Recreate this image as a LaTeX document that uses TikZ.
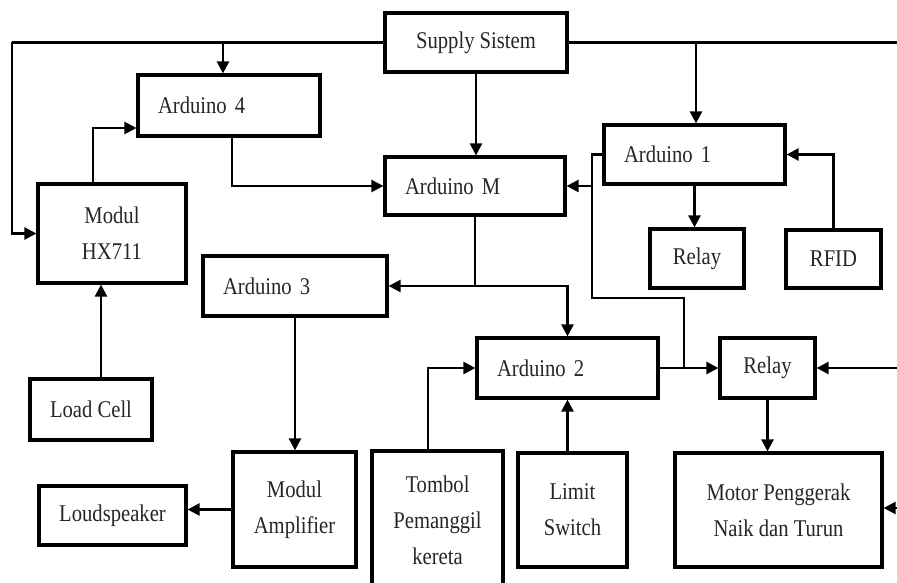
\documentclass[tikz,border=0pt]{standalone}
\usepackage{fontspec}
\setmainfont{Liberation Serif}[FakeStretch=0.86]
\usetikzlibrary{arrows.meta,calc}
\begin{document}
\begin{tikzpicture}[x=1pt,y=-1pt,
  box/.style={draw, line width=3.2pt, inner sep=0pt, font=\fontsize{24}{36}\selectfont, text=black!85},
  lbox/.style={box, align=left, inner xsep=20pt},
  cbox/.style={box, align=center},
  conn/.style={line width=2.4pt},
  arr/.style={conn, -{Triangle[length=12pt,width=12pt]}}]
\useasboundingbox (0,0) rectangle (897,583);
% nodes
\node[cbox, minimum width=182pt, minimum height=59pt] (supply) at (476,42.5) {Supply Sistem};
\node[lbox, text width=142pt, minimum height=61pt] (a4) at (229,105.5) {Arduino 4};
\node[cbox, minimum width=148pt, minimum height=99pt] (hx) at (112,233.5) {Modul\\HX711};
\node[lbox, text width=140pt, minimum height=58pt] (am) at (475,186) {Arduino M};
\node[lbox, text width=141pt, minimum height=59pt] (a1) at (694.5,154.5) {Arduino 1};
\node[cbox, minimum width=94pt, minimum height=59pt] (relay1) at (697,258.5) {Relay};
\node[cbox, minimum width=95pt, minimum height=58pt] (rfid) at (833.5,259) {RFID};
\node[lbox, text width=144pt, minimum height=60pt] (a3) at (295,286) {Arduino 3};
\node[cbox, minimum width=122pt, minimum height=61pt] (load) at (91,409.5) {Load Cell};
\node[lbox, text width=141pt, minimum height=60pt] (a2) at (567.5,368) {Arduino 2};
\node[cbox, minimum width=95pt, minimum height=60pt] (relay2) at (767.5,368) {Relay};
\node[cbox, minimum width=123pt, minimum height=115pt] (amp) at (294.5,509.5) {Modul\\Amplifier};
\node[cbox, minimum width=147pt, minimum height=59pt] (loud) at (112.5,515.5) {Loudspeaker};
\node[cbox, minimum width=131pt, minimum height=139pt] (tombol) at (437.5,520.5) {Tombol\\Pemanggil\\kereta};
\node[cbox, minimum width=109pt, minimum height=114pt] (limit) at (572.5,510) {Limit\\Switch};
\node[cbox, minimum width=207pt, minimum height=114pt] (motor) at (778.5,510) {Motor Penggerak\\Naik dan Turun};
% coordinates
\coordinate (tl) at (12,42.5);
\coordinate (tr) at (897,42.5);
\coordinate (j4) at (223,42.5);
\coordinate (j1) at (696,42.5);
\coordinate (v1) at (592,154.5);
\coordinate (v2) at (592,298);
\coordinate (v3) at (684,298);
\coordinate (v4) at (684,368);
\coordinate (jm) at (592,186);
\coordinate (r2in) at (897,368);
\coordinate (min) at (897,508);
\coordinate (lc) at ($(load.north)+(10,0)$);
\coordinate (hxo) at ($(hx.north)+(-19,0)$);
\coordinate (a4in) at ($(a4.west)+(0,22.5)$);
\coordinate (a4o) at ($(a4.south)+(3,0)$);
\coordinate (tbo) at ($(tombol.north)+(-9.5,0)$);
% connectors
\draw[conn] (supply.west) -- (tl);
\draw[arr] (tl) |- (hx.west);
\draw[conn] (supply.east) -- (tr);
\draw[arr] (j4) -- (j4 |- a4.north);
\draw[arr] (j1) -- (j1 |- a1.north);
\draw[arr] (supply.south) -- (supply.south |- am.north);
\draw[arr] (hxo) |- (a4in);
\draw[arr] (a4o) |- (am.west);
\draw[conn] (a1.west) -- (v1) -- (v2) -- (v3) -- (v4);
\draw[arr] (jm) -- (am.east);
\draw[arr] (a1.south) -- (a1.south |- relay1.north);
\draw[arr] (rfid.north) |- (a1.east);
\draw[conn] (am.south) -- (am.south |- a3.east);
\draw[arr] (am.south |- a3.east) -- (a3.east);
\draw[arr] (am.south |- a3.east) -| (a2.north);
\draw[arr] (a3.south) -- (a3.south |- amp.north);
\draw[arr] (amp.west) -- (amp.west -| loud.east);
\draw[arr] (lc) -- (lc |- hx.south);
\draw[arr] (tbo) |- (a2.west);
\draw[arr] (a2.south |- limit.north) -- (a2.south);
\draw[arr] (a2.east) -- (relay2.west);
\draw[arr] (r2in) -- (relay2.east);
\draw[arr] (relay2.south) -- (relay2.south |- motor.north);
\draw[arr] (min) -- (min -| motor.east);
\end{tikzpicture}
\end{document}
